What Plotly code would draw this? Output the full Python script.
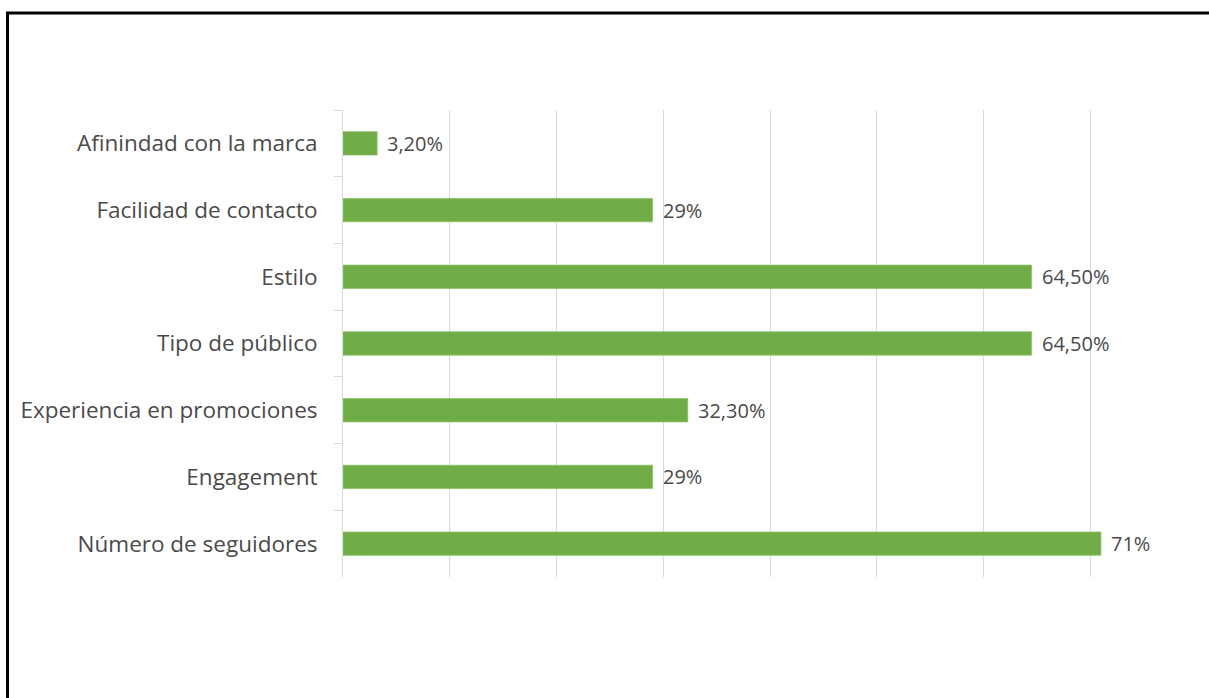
import plotly.graph_objects as go

categories = ["Afinindad con la marca", "Facilidad de contacto", "Estilo", "Tipo de público",
              "Experiencia en promociones", "Engagement", "Número de seguidores"]
values = [3.2, 29, 64.5, 64.5, 32.3, 29, 71]
labels = ["3,20%", "29%", "64,50%", "64,50%", "32,30%", "29%", "71%"]

W, H = 1209, 698
L, R, T, B = 343, 12, 110, 121
pw, ph = W - L - R, H - T - B
FONT = "Open Sans"
TXT = "#4A4A4A"

fig = go.Figure(go.Bar(
    y=categories, x=values, orientation="h",
    marker=dict(color="#70AD47", line=dict(color="#8CC46A", width=0.8)),
    width=0.35, hoverinfo="skip",
))

annotations = [
    dict(x=v, y=c, xref="x", yref="y", text=t, showarrow=False,
         xanchor="left", yanchor="middle", xshift=8,
         font=dict(family=FONT, size=20, color=TXT))
    for c, v, t in zip(categories, values, labels)
]

fig.update_layout(
    width=W, height=H,
    margin=dict(l=L, r=R, t=T, b=B),
    paper_bgcolor="white", plot_bgcolor="white",
    showlegend=False,
    font=dict(family=FONT, color=TXT),
    annotations=annotations,
    xaxis=dict(range=[0, 80], dtick=10, showgrid=True, gridcolor="#D9D9D9", gridwidth=1,
               showticklabels=False, zeroline=False, showline=False, fixedrange=True),
    yaxis=dict(autorange="reversed", type="category", tickson="boundaries",
               ticks="outside", ticklen=8, tickcolor="#D9D9D9",
               showline=True, linecolor="#D9D9D9", linewidth=1,
               showgrid=False, ticklabelstandoff=20,
               tickfont=dict(family=FONT, size=22.5, color=TXT)),
    shapes=[dict(type="rect", xref="paper", yref="paper",
                 x0=(7.5 - L) / pw, x1=1.2, y0=-0.5, y1=(H - B - 13) / ph,
                 line=dict(color="black", width=3), fillcolor="rgba(0,0,0,0)", layer="above")],
)

fig.write_html("out.html")
